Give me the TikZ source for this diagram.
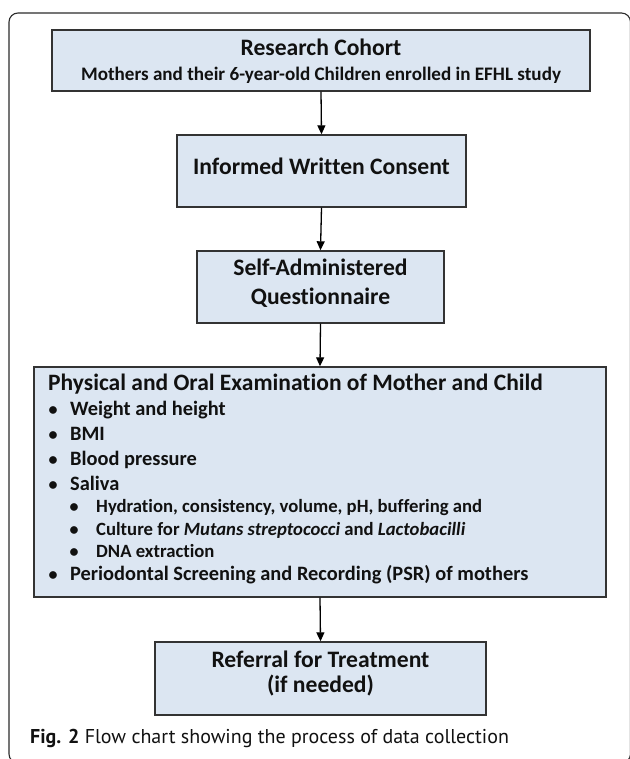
\documentclass[tikz,border=0pt]{standalone}
\usepackage{fontspec}
\setmainfont{Carlito}[RawFeature={-liga,-clig,-dlig,-rlig,-calt}]
\newfontfamily\capfont{PT Sans}
\usetikzlibrary{arrows.meta}
\definecolor{boxfill}{HTML}{DCE6F2}
\definecolor{boxline}{HTML}{333333}
\definecolor{frameline}{HTML}{2B2B2B}
\definecolor{txt}{HTML}{111111}
\newcommand{\nolig}{\kern0pt{}}
\begin{document}
\begin{tikzpicture}[x=1pt,y=-1pt,
  box/.style={draw=boxline, fill=boxfill, line width=1.4pt, inner sep=0pt},
  lbl/.style={inner sep=0pt, anchor=mid, text=txt, font=\bfseries\fontsize{23.6}{27}\selectfont},
  item/.style={inner sep=0pt, anchor=mid west, text=txt, font=\bfseries\fontsize{20.4}{24}\selectfont},
  sub/.style={inner sep=0pt, anchor=mid west, text=txt, font=\bfseries\fontsize{18.7}{22}\selectfont},
  dot/.style={inner sep=0pt, anchor=mid, text=txt, font=\bfseries\fontsize{18}{20}\selectfont},
  flow/.style={draw=black, line width=1.3pt, -{Triangle[length=9pt,width=8pt]}}
]
\useasboundingbox (0,0) rectangle (629,759);
% outer frame
\draw[frameline, line width=1.1pt, rounded corners=9pt] (9,13) rectangle (630.5,763);

% boxes
\node[box, minimum width=538pt, minimum height=61pt] (b1) at (321,60.5) {};
\node[box, minimum width=289pt, minimum height=72pt] (b2) at (321.5,171) {};
\node[box, minimum width=247pt, minimum height=72pt] (b3) at (320.5,287) {};
\node[box, minimum width=572pt, minimum height=230pt] (b4) at (320,482) {};
\node[box, minimum width=331pt, minimum height=73pt] (b5) at (320.5,678.5) {};

% box texts
\node[lbl] (t1a) at (321,53) {Research Cohort};
\node[lbl, font=\bfseries\fontsize{19.1}{22}\selectfont] (t1b) at (321,78) {Mothers and their 6-year-old Children enrolled in EFHL study};
\node[lbl] (t2) at (321.5,172) {Informed Writ\nolig ten Consent};
\node[lbl] (t3a) at (320.5,273) {Self-Administered};
\node[lbl] (t3b) at (320.5,302) {Questionnaire};
\node[lbl] (t5a) at (320.5,665) {Referral for Treatment};
\node[lbl] (t5b) at (320.5,690) {(if needed)};

% box 4 content
\node[item, font=\bfseries\fontsize{23.5}{27}\selectfont] (t4) at (48,388) {Physical and Oral Examinat\nolig ion of Mother and Child};
\node[dot] (d1) at (53,413) {•};
\node[item] (i1) at (70,413) {Weight and height};
\node[dot] (d2) at (53,438) {•};
\node[item] (i2) at (70,438) {BMI};
\node[dot] (d3) at (53,463) {•};
\node[item] (i3) at (70,463) {Blood pressure};
\node[dot] (d4) at (53,488) {•};
\node[item] (i4) at (70,488) {Saliva};
\node[dot] (s1) at (74,510) {•};
\node[sub] (j1) at (96,510) {Hydrat\nolig ion, consistency, volume, pH, buffering and};
\node[dot] (s2) at (74,533) {•};
\node[sub] (j2) at (96,533) {Culture for \textit{Mutans streptococci} and \textit{Lactobacilli}};
\node[dot] (s3) at (74,555) {•};
\node[sub] (j3) at (96,555) {DNA extract\nolig ion};
\node[dot] (d5) at (53,578) {•};
\node[item] (i5) at (70,578) {Periodontal Screening and Recording (PSR) of mothers};

% arrows
\draw[flow] (b1.south) -- (b2.north);
\draw[flow] (b2.south) -- (b3.north);
\draw[flow] (b3.south) -- (b4.north);
\draw[flow] (b4.south) -- (b5.north);

% caption
\node[inner sep=0pt, anchor=mid west, text=txt, font=\capfont\fontsize{20}{24}\selectfont] (cap) at (30,741) {\textbf{Fig. 2} Flow chart showing the process of data collection};
\end{tikzpicture}
\end{document}
